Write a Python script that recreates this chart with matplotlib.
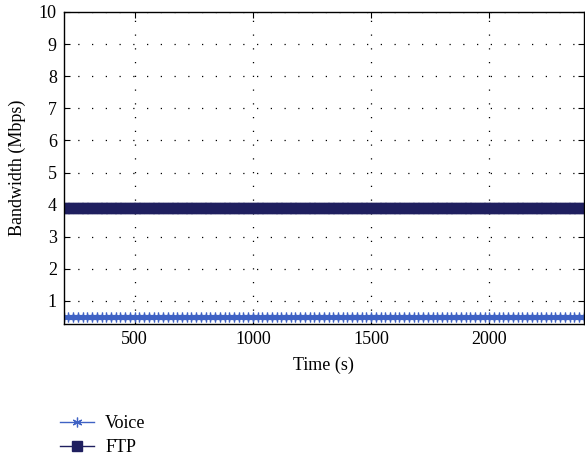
import numpy as np
import matplotlib
matplotlib.use('Agg')
import matplotlib.pyplot as plt

plt.rcParams['font.family'] = ['Liberation Serif', 'DejaVu Serif']

times = list(range(200, 2401, 20))
voice = [0.5] * len(times)
ftp = [3.9] * len(times)

xticks = [500, 1000, 1500, 2000]
yticks = [1, 2, 3, 4, 5, 6, 7, 8, 9, 10]

fig = plt.figure(figsize=(5.85, 4.61), dpi=100)
ax = fig.add_axes([0.109, 0.297, 0.889, 0.677])

K1, = ax.plot(times, voice, color='#3f62c4', lw=1.0, marker=(6, 2, 0),
              ms=7, mew=0.9)
K2, = ax.plot(times, ftp, color='#1f1f5f', lw=1.0, marker='s',
              ms=6.5, mew=1.0, mfc='#1f1f5f', mec='#1f1f5f')

ax.set_xlim(200, 2400)
ax.set_ylim(0.28, 10)
ax.set_xticks(xticks)
ax.set_yticks(yticks)
ax.grid(True, color='black', linestyle=(0, (1, 10)), linewidth=0.9)
ax.tick_params(direction='in', top=True, right=True, labelsize=13, length=4, pad=5)
for s in ax.spines.values():
    s.set_linewidth(1.0)

ax.set_xlabel('Time (s)', fontsize=13, labelpad=6)
ax.set_ylabel('Bandwidth (Mbps)', fontsize=13, labelpad=9)

fig.legend((K1, K2), ('Voice', 'FTP'), loc='upper left',
           bbox_to_anchor=(0.075, 0.135), frameon=False, fontsize=13,
           handlelength=1.9, labelspacing=0.4, handletextpad=0.6,
           markerscale=1.0)

fig.savefig('out.png', dpi=100)
